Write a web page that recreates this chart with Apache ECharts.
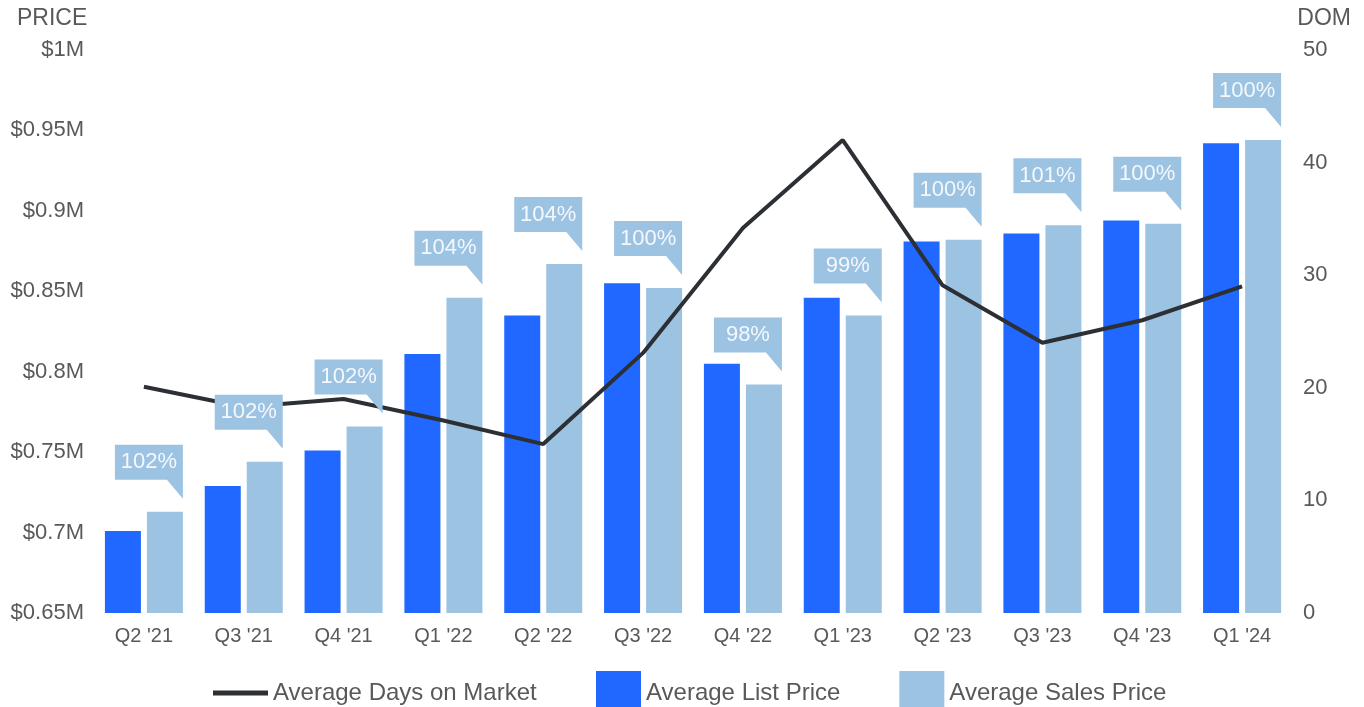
<!DOCTYPE html>
<html>
<head>
<meta charset="utf-8">
<script src="https://cdn.jsdelivr.net/npm/echarts@6/dist/echarts.min.js"></script>
<style>
  html, body { margin: 0; padding: 0; background: #fff; }
  #chart { width: 1364px; height: 707px; }
</style>
</head>
<body>
<div id="chart"></div>
<script>
// quarters
const categories = ["Q2 '21", "Q3 '21", "Q4 '21", "Q1 '22", "Q2 '22", "Q3 '22", "Q4 '22", "Q1 '23", "Q2 '23", "Q3 '23", "Q4 '23", "Q1 '24"]
// prices in $ thousands
const listPrice = [701, 729, 751, 811, 835, 855, 805, 846, 881, 886, 894, 942]
const salesPrice = [713, 744, 766, 846, 867, 852, 792, 835, 882, 891, 892, 944]
// days on market
const daysOnMarket = [20.1, 18.3, 19.0, 17.1, 15.0, 23.1, 34.2, 42.0, 29.1, 24.0, 26.0, 29.0]
// sale-to-list ratio labels
const ratioLabels = ['102%', '102%', '102%', '104%', '104%', '100%', '98%', '99%', '100%', '101%', '100%', '100%']

const FONT = '"Liberation Sans", Arial, sans-serif'
const TEXT = '#595959'
const DARK_BLUE = '#2068ff'
const LIGHT_BLUE = '#9dc3e3'
const LINE = '#2c3035'

const chart = echarts.init(document.getElementById('chart'))

const option = {
  backgroundColor: '#fff',
  animation: false,
  textStyle: { fontFamily: FONT },
  grid: { left: 94, right: 72, top: 50, bottom: 94 },
  graphic: [
    { type: 'text', left: 17, top: 7, style: { text: 'PRICE', fill: TEXT, font: '23px ' + FONT } },
    { type: 'text', right: 13, top: 7, style: { text: 'DOM', fill: TEXT, font: '23px ' + FONT } }
  ],
  legend: [{
    data: ['Average Days on Market'],
    left: 208,
    top: 676,
    itemWidth: 55,
    itemHeight: 5,
    icon: 'rect',
    textStyle: { color: TEXT, fontSize: 24, fontFamily: FONT }
  }, {
    data: ['Average List Price', 'Average Sales Price'],
    left: 591,
    top: 666,
    itemWidth: 45,
    itemHeight: 44,
    itemGap: 59,
    icon: 'rect',
    textStyle: { color: TEXT, fontSize: 24, fontFamily: FONT }
  }],
  xAxis: {
    type: 'category',
    data: categories,
    axisLine: { show: false },
    axisTick: { show: false },
    axisLabel: { color: TEXT, fontSize: 20, margin: 13 }
  },
  yAxis: [{
    type: 'value',
    min: 650,
    max: 1000,
    interval: 50,
    axisLine: { show: false },
    axisTick: { show: false },
    splitLine: { show: false },
    axisLabel: {
      color: TEXT,
      fontSize: 22,
      margin: 10,
      formatter: v => '$' + (v / 1000) + 'M'
    }
  }, {
    type: 'value',
    min: 0,
    max: 50,
    interval: 10,
    axisLine: { show: false },
    axisTick: { show: false },
    splitLine: { show: false },
    axisLabel: { color: TEXT, fontSize: 22, margin: 11 }
  }],
  series: [{
    name: 'Average List Price',
    type: 'bar',
    data: listPrice,
    barWidth: 36,
    barGap: '16.7%',
    itemStyle: { color: DARK_BLUE },
    z: 2
  }, {
    name: 'Average Sales Price',
    type: 'bar',
    data: salesPrice,
    barWidth: 36,
    itemStyle: { color: LIGHT_BLUE },
    z: 2
  }, {
    name: 'Average Days on Market',
    type: 'line',
    yAxisIndex: 1,
    data: daysOnMarket,
    showSymbol: false,
    symbol: 'none',
    lineStyle: { color: LINE, width: 4 },
    itemStyle: { color: LINE },
    z: 3
  }, {
    // callout boxes above the sales bars
    type: 'custom',
    data: salesPrice.map((v, i) => [i, v, ratioLabels[i]]),
    encode: { x: 0, y: 1 },
    z: 5,
    silent: true,
    renderItem: (params, api) => {
      const pt = api.coord([api.value(0), api.value(1)])
      const right = pt[0] + 39
      const tip = pt[1] - 13
      const tailTop = tip - 19
      const boxTop = tailTop - 35
      const left = right - 68
      return {
        type: 'group',
        children: [{
          type: 'polygon',
          shape: { points: [[left, boxTop], [right, boxTop], [right, tip], [right - 16, tailTop], [left, tailTop]] },
          style: { fill: LIGHT_BLUE }
        }, {
          type: 'text',
          style: {
            text: ratioLabels[params.dataIndex],
            x: (left + right) / 2,
            y: (boxTop + tailTop) / 2,
            align: 'center',
            verticalAlign: 'middle',
            fill: '#f4f8fc',
            font: '22px ' + FONT
          }
        }]
      }
    }
  }]
}

chart.setOption(option)

window.addEventListener('resize', () => {
  chart.resize()
})
</script>
</body>
</html>
